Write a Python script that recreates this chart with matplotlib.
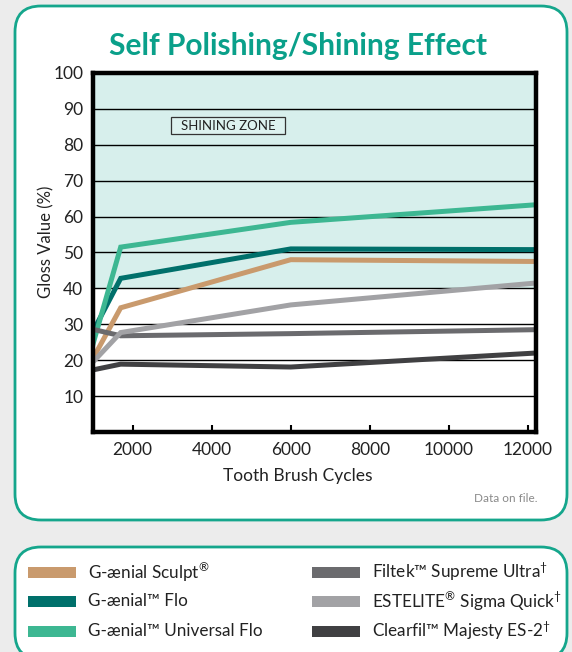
import matplotlib
matplotlib.use('Agg')
import matplotlib.pyplot as plt
from matplotlib.patches import FancyBboxPatch, Rectangle

plt.rcParams['font.family'] = ['Lato', 'DejaVu Sans']
plt.rcParams['mathtext.fontset'] = 'custom'
plt.rcParams['mathtext.rm'] = 'Lato'
plt.rcParams['mathtext.it'] = 'Lato:italic'
plt.rcParams['mathtext.bf'] = 'Lato:bold'

# data
cycles = [1000, 1700, 6000, 12200]
sculpt = [20.5, 34.6, 48.0, 47.5]
flo = [28.0, 42.8, 51.0, 50.8]
universal = [24.5, 51.5, 58.4, 63.3]
filtek = [28.6, 26.8, 27.4, 28.5]
estelite = [19.5, 27.7, 35.4, 41.5]
clearfil = [17.3, 18.9, 18.1, 22.0]

names = [r'G-ænial Sculpt$^{\mathrm{®}}$', 'G-ænial™ Flo', 'G-ænial™ Universal Flo',
         r'Filtek™ Supreme Ultra$^{\dagger}$', r'ESTELITE$^{\mathrm{®}}$ Sigma Quick$^{\dagger}$',
         r'Clearfil™ Majesty ES-2$^{\dagger}$']
series = [sculpt, flo, universal, filtek, estelite, clearfil]
colors = ['#C99A6D', '#00706B', '#3DB792', '#6B6B6E', '#A2A2A5', '#404042']

yticks = [10, 20, 30, 40, 50, 60, 70, 80, 90, 100]
xticks = [2000, 4000, 6000, 8000, 10000, 12000]

W, H = 572, 652
fig = plt.figure(figsize=(W / 100, H / 100), dpi=100, facecolor='#ececec')

# background layer in pixel coords
bg = fig.add_axes([0, 0, 1, 1], zorder=-5)
bg.set_xlim(0, W)
bg.set_ylim(H, 0)
bg.axis('off')
teal = '#15A68C'
bg.add_patch(FancyBboxPatch((15, 6), 552, 514, boxstyle='round,pad=0,rounding_size=26',
                            fc='white', ec=teal, lw=2))
bg.add_patch(FancyBboxPatch((15, 547), 552, 112, boxstyle='round,pad=0,rounding_size=26',
                            fc='white', ec=teal, lw=2, clip_on=False))
bg.text(298, 46, 'Self Polishing/Shining Effect', ha='center', va='center',
        fontsize=21.5, fontweight='bold', color='#0AA08A')
bg.text(538, 499, 'Data on file.', ha='right', va='center', fontsize=8.5, color='#8a8a8a')

# legend drawn by hand
for i, (name, col) in enumerate(zip(names, colors)):
    c, r = divmod(i, 3)
    x0 = 28 if c == 0 else 312
    yc = 572 + r * 29.5
    bg.add_patch(Rectangle((x0, yc - 5.5), 48, 11, fc=col, ec='none'))
    bg.text(x0 + 60, yc, name, ha='left', va='center', fontsize=12.3, color='#222222')

# main plot
ax = fig.add_axes([93 / W, 1 - 432 / H, 443 / W, 359 / H])
ax.axhspan(40, 100, color='#D7EFEC', zorder=0, lw=0)
for y in yticks[:-1]:
    ax.axhline(y, color='black', lw=1.0, zorder=1)
for vals, col in zip(series, colors):
    ax.plot(cycles, vals, color=col, lw=3.6, zorder=3, solid_joinstyle='miter')

ax.set_xlim(1000, 12200)
ax.set_ylim(0, 100)
ax.set_yticks(yticks)
ax.set_xticks(xticks)
ax.tick_params(axis='y', length=0, pad=7, labelsize=12.5, labelcolor='#222222')
ax.tick_params(axis='x', direction='in', length=5, width=1.5, pad=7, labelsize=12.5,
               labelcolor='#222222')
for s in ax.spines.values():
    s.set_linewidth(3.2)
    s.set_color('black')
    s.set_zorder(4)
ax.set_xlabel('Tooth Brush Cycles', fontsize=12.5, color='#222222')
ax.set_ylabel('Gloss Value (%)', fontsize=12, color='#222222')
ax.xaxis.set_label_coords((298 - 93) / 443, (432 - 468) / 359)
ax.yaxis.set_label_coords((54 - 93) / 443, (432 - 242) / 359)

# shining zone label, drawn on the plot in pixel coords
ax.add_patch(Rectangle((171, 117), 114, 17, fc='#DDF2EF', ec='#333333', lw=0.9,
                       transform=bg.transData, zorder=5, clip_on=False))
ax.text(228, 126, 'SHINING ZONE', ha='center', va='center', fontsize=9.5, color='#222222',
        transform=bg.transData, zorder=6)

fig.savefig('out.png', dpi=100, facecolor=fig.get_facecolor())
